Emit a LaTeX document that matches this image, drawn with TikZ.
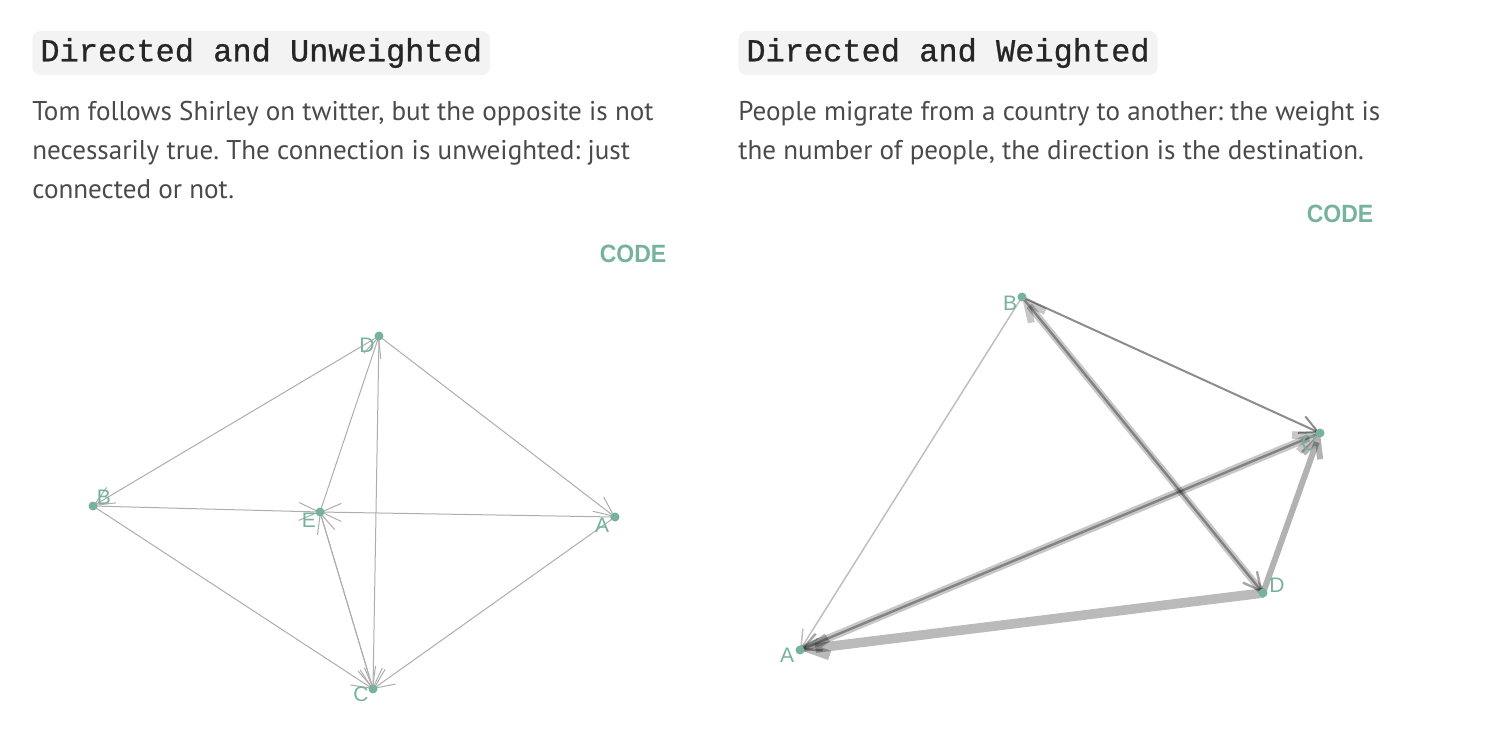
\documentclass[tikz,border=0pt]{standalone}
\usepackage{fontspec}
\setmainfont{PT Sans}
\setmonofont{Liberation Mono}[FakeBold=0.8]
\newfontfamily\labfont{Liberation Sans}
\newfontfamily\codefont{Liberation Sans}[FakeStretch=0.92]
\usetikzlibrary{arrows.meta,backgrounds}
\definecolor{nodegreen}{HTML}{76B29E}
\definecolor{textgray}{HTML}{4A4A4A}
\definecolor{codebg}{HTML}{F3F3F3}
\frenchspacing
\tikzset{
  dot/.style={circle,fill=nodegreen,inner sep=0pt,minimum size=4.5pt},
  lab/.style={text=nodegreen,font=\labfont\fontsize{10.5}{10.5}\selectfont,inner sep=0pt},
  title/.style={anchor=west,fill=codebg,rounded corners=4pt,text=black!85,
    font=\ttfamily\fontsize{16}{16}\selectfont,inner xsep=4pt,minimum height=22pt},
  body/.style={anchor=base west,inner sep=0pt,text=textgray,font=\fontsize{13.55}{13.55}\selectfont},
  code/.style={text=nodegreen,font=\codefont\bfseries\fontsize{12.5}{12.5}\selectfont,inner sep=0pt},
  uedge/.style={draw=black!32,line width=0.5pt,-{Straight Barb[length=10pt,width=9pt]}},
  wedge/.style={draw=black,-{Straight Barb[length=9pt,width=9pt]}}
}
\begin{document}
\begin{tikzpicture}[x=0.5pt,y=-0.5pt]
    \useasboundingbox (0,0) rectangle (1490,746);

    % left: directed and unweighted
    \node[title] (ttlU) at (32,53) {Directed and Unweighted};
    \node[body] (txtU1) at (32,120) {Tom follows Shirley on twitter, but the opposite is not};
    \node[body] (txtU2) at (32,159) {necessarily true. The connection is unweighted: just};
    \node[body] (txtU3) at (32,198) {connected or not.};
    \node[code] (codeU) at (633,254) {CODE};

    \node[dot] (uD) at (379,336) {};
    \node[dot] (uB) at (93,506) {};
    \node[dot] (uE) at (320,512) {};
    \node[dot] (uA) at (615,517) {};
    \node[dot] (uC) at (373,689) {};
    \node[lab] (luD) at (367,345) {D};
    \node[lab] (luB) at (104,497) {B};
    \node[lab] (luE) at (309,520) {E};
    \node[lab] (luA) at (602,525) {A};
    \node[lab] (luC) at (361,694) {C};

    \begin{scope}[on background layer]
    \path[uedge] (uD.center) -- (uB.center);
    \path[uedge] (uD.center) -- (uA.center);
    \path[uedge] (uD.center) -- (uC.center);
    \path[uedge] (uE.center) -- (uD.center);
    \path[uedge] (uB.center) -- (uE.center);
    \path[uedge] (uA.center) -- (uE.center);
    \path[uedge] (uC.center) -- (uE.center);
    \path[uedge] (uE.center) -- (uC.center);
    \path[uedge] (uB.center) -- (uC.center);
    \path[uedge] (uA.center) -- (uC.center);
    \end{scope}

    % right: directed and weighted
    \node[title] (ttlW) at (738,53) {Directed and Weighted};
    \node[body] (txtW1) at (738,120) {People migrate from a country to another: the weight is};
    \node[body] (txtW2) at (738,159) {the number of people, the direction is the destination.};
    \node[code] (codeW) at (1340,214) {CODE};

    \node[dot] (wB) at (1022,297) {};
    \node[dot] (wC) at (1320,433) {};
    \node[dot] (wD) at (1263,593) {};
    \node[dot] (wA) at (800,650) {};
    \node[lab] (lwB) at (1010,303) {B};
    \node[lab] (lwC) at (1309,443) {C};
    \node[lab] (lwD) at (1277,585) {D};
    \node[lab] (lwA) at (787,655) {A};

    \begin{scope}[on background layer]
    \path[wedge,draw opacity=0.45,line width=1pt] (wB.center) -- (wC.center);
    \path[wedge,draw opacity=0.25,line width=0.75pt] (wB.center) -- (wA.center);
    \path[wedge,draw opacity=0.22,line width=3.5pt] (wD.center) -- (wB.center);
    \path[wedge,draw opacity=0.35,line width=1.2pt] (wB.center) -- (wD.center);
    \path[wedge,draw opacity=0.22,line width=3.8pt] (wA.center) -- (wC.center);
    \path[wedge,draw opacity=0.35,line width=1.2pt] (wC.center) -- (wA.center);
    \path[wedge,draw opacity=0.3,line width=3pt] (wD.center) -- (wC.center);
    \path[wedge,draw opacity=0.27,line width=4.8pt] (wD.center) -- (wA.center);
    \end{scope}
\end{tikzpicture}
\end{document}
